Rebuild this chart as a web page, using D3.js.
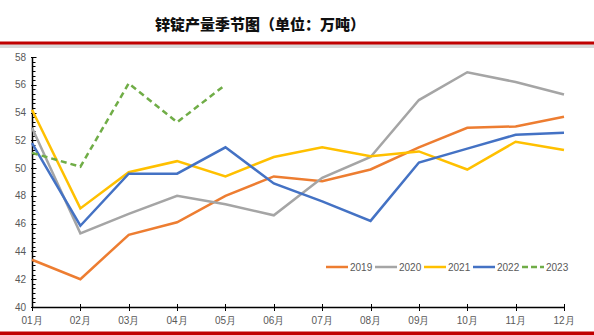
<!DOCTYPE html>
<html>

<head>
  <meta charset="UTF-8" />
  <title>锌锭产量季节图</title>
  <style>
    body {
      margin: 0;
      background: #fff;
      font-family: "Liberation Sans", Arial, sans-serif;
    }
  </style>
  <script src="https://d3js.org/d3.v7.min.js"></script>
</head>

<body>
  <script>
    let months = ["01月", "02月", "03月", "04月", "05月", "06月", "07月", "08月", "09月", "10月", "11月", "12月"];
    let years = ["2019", "2020", "2021", "2022", "2023"];
    let v2019 = [43.4, 42.0, 45.2, 46.1, 48.0, 49.4, 49.05, 49.9, 51.5, 52.9, 53.0, 53.7];
    let v2020 = [52.9, 45.3, 46.7, 48.0, 47.4, 46.6, 49.3, 50.8, 54.9, 56.9, 56.2, 55.3];
    let v2021 = [54.2, 47.1, 49.7, 50.5, 49.4, 50.8, 51.5, 50.85, 51.2, 49.9, 51.9, 51.3];
    let v2022 = [51.8, 45.85, 49.6, 49.6, 51.5, 48.9, 47.6, 46.2, 50.4, 51.4, 52.4, 52.55];
    let v2023 = [51.1, 50.1, 56.1, 53.3, 56.0];
    let yTicks = [40, 42, 44, 46, 48, 50, 52, 54, 56, 58];

    let seriesValues = [v2019, v2020, v2021, v2022, v2023];
    let colors = ["#ED7D31", "#A5A5A5", "#FFC000", "#4472C4", "#70AD47"];

    let W = 594, H = 335;
    let margin = { top: 57, right: 30, bottom: 28, left: 32 };

    let svg = d3.select("body")
      .append("svg")
      .attr("width", W)
      .attr("height", H);

    /* Title */
    svg.append("text")
      .attr("x", 260)
      .attr("y", 30)
      .attr("text-anchor", "middle")
      .style("font-family", "'Noto Sans CJK SC', sans-serif")
      .style("font-weight", 900)
      .style("font-size", "15px")
      .style("fill", "#111")
      .text("锌锭产量季节图（单位：万吨）");

    /* Header rule with shadow */
    svg.append("rect").attr("x", 0).attr("y", 44).attr("width", W).attr("height", 4).attr("fill", "#d9d9d9");
    svg.append("rect").attr("x", 0).attr("y", 41.5).attr("width", W).attr("height", 3).attr("fill", "#c00000");
    /* Footer rule */
    svg.append("rect").attr("x", 0).attr("y", 331.5).attr("width", W).attr("height", 4).attr("fill", "#c00000");

    let x = d3.scalePoint()
      .domain(months)
      .range([margin.left, W - margin.right]);

    let y = d3.scaleLinear()
      .domain([40, 58])
      .range([H - margin.bottom, margin.top]);

    let textColor = "#595959";

    /* Y axis with minor ticks */
    let yMinor = d3.range(40, 58.001, 1 / 3);
    let yAxisG = svg.append("g").attr("transform", `translate(${margin.left},0)`);
    yAxisG.selectAll(".minor")
      .data(yMinor)
      .enter()
      .append("line")
      .attr("x1", 0).attr("x2", 3.5)
      .attr("y1", d => Math.round(y(d)) + 0.5)
      .attr("y2", d => Math.round(y(d)) + 0.5)
      .attr("stroke", "#000");
    yAxisG.selectAll(".major")
      .data(yTicks)
      .enter()
      .append("line")
      .attr("x1", -1).attr("x2", 4.5)
      .attr("y1", d => Math.round(y(d)) + 0.5)
      .attr("y2", d => Math.round(y(d)) + 0.5)
      .attr("stroke", "#000");
    yAxisG.append("line")
      .attr("x1", 0.5).attr("x2", 0.5)
      .attr("y1", y(58)).attr("y2", y(40))
      .attr("stroke", "#000").attr("stroke-width", 1.5);
    yAxisG.selectAll(".ylabel")
      .data(yTicks)
      .enter()
      .append("text")
      .attr("x", -6)
      .attr("y", d => y(d))
      .attr("dy", "0.35em")
      .attr("text-anchor", "end")
      .style("font-size", "10px")
      .style("fill", textColor)
      .text(d => d);

    /* X axis */
    let xAxisG = svg.append("g");
    xAxisG.append("line")
      .attr("x1", margin.left).attr("x2", W - margin.right)
      .attr("y1", y(40) + 0.5).attr("y2", y(40) + 0.5)
      .attr("stroke", "#000").attr("stroke-width", 1.5);
    xAxisG.selectAll(".xtick")
      .data(months)
      .enter()
      .append("line")
      .attr("x1", d => Math.round(x(d)) + 0.5)
      .attr("x2", d => Math.round(x(d)) + 0.5)
      .attr("y1", y(40) - 3).attr("y2", y(40) + 4)
      .attr("stroke", "#000");
    xAxisG.selectAll(".xlabel")
      .data(months)
      .enter()
      .append("text")
      .attr("x", d => x(d))
      .attr("y", y(40) + 17)
      .attr("text-anchor", "middle")
      .style("font-size", "10px")
      .style("fill", textColor)
      .text(d => d);

    /* Lines */
    let line = d3.line()
      .x((d, i) => x(months[i]))
      .y(d => y(d));

    svg.append("g")
      .selectAll("path")
      .data(seriesValues)
      .enter()
      .append("path")
      .attr("d", d => line(d))
      .attr("fill", "none")
      .attr("stroke", (d, i) => colors[i])
      .attr("stroke-width", 2.5)
      .attr("stroke-linejoin", "miter")
      .attr("stroke-dasharray", (d, i) => i === 4 ? "6,4" : null);

    /* Legend */
    let legend = svg.append("g")
      .attr("transform", "translate(326, 267)");
    let item = legend.selectAll(".item")
      .data(years)
      .enter()
      .append("g")
      .attr("transform", (d, i) => `translate(${i * 49}, 0)`);
    item.append("line")
      .attr("x1", 0).attr("x2", 22)
      .attr("y1", 0).attr("y2", 0)
      .attr("stroke", (d, i) => colors[i])
      .attr("stroke-width", 2.5)
      .attr("stroke-dasharray", (d, i) => i === 4 ? "6,3" : null);
    item.append("text")
      .attr("x", 24)
      .attr("y", 0)
      .attr("dy", "0.35em")
      .style("font-size", "10px")
      .style("fill", textColor)
      .text(d => d);
  </script>
</body>

</html>
